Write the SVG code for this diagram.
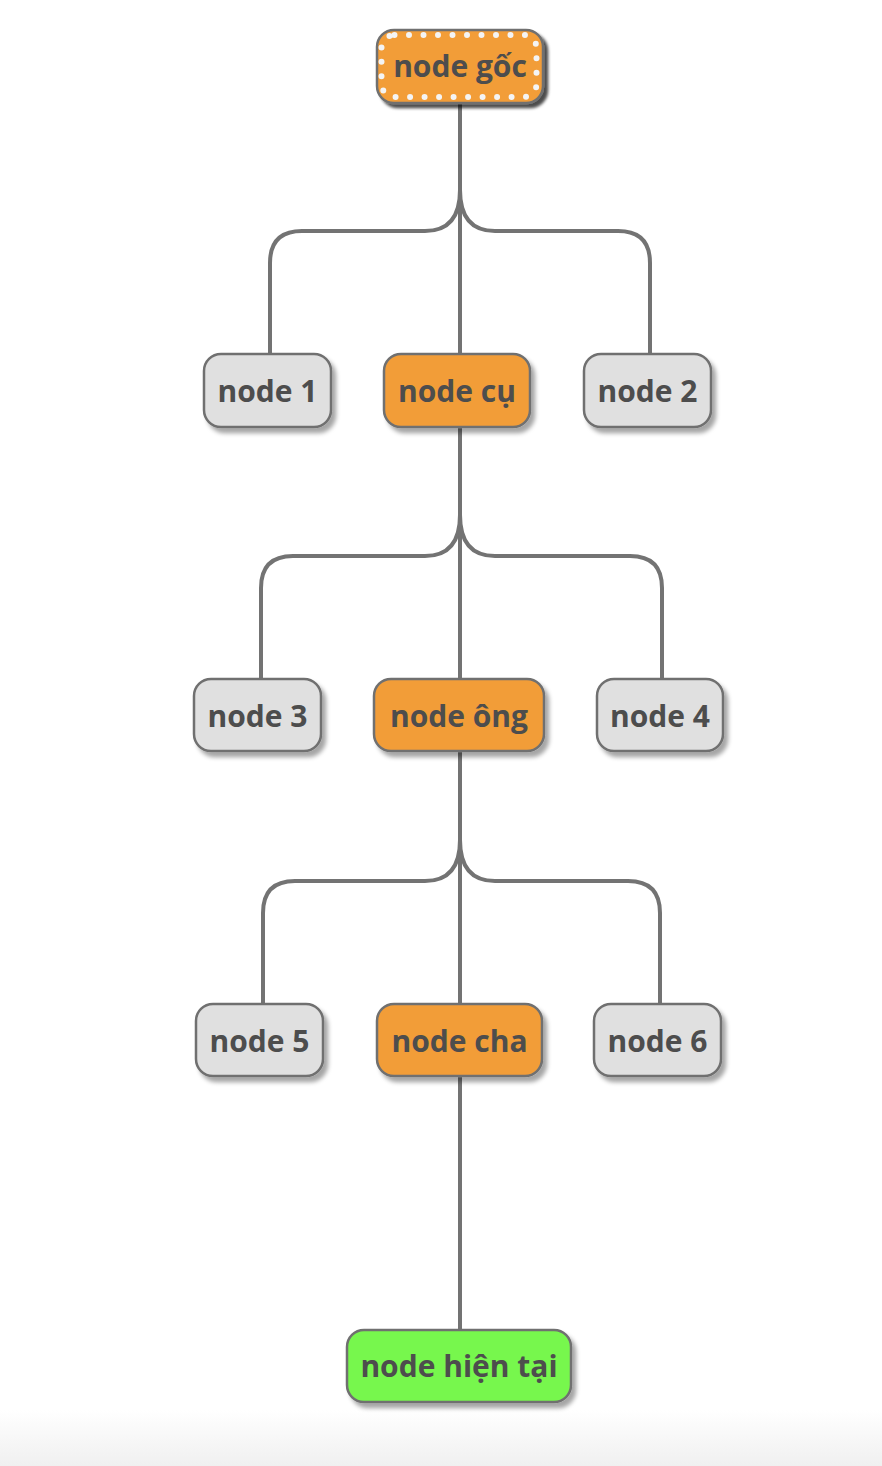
<svg xmlns="http://www.w3.org/2000/svg" width="882" height="1466" viewBox="0 0 882 1466">
<defs>
<filter id="sh" x="-20%" y="-20%" width="150%" height="160%">
<feGaussianBlur in="SourceAlpha" stdDeviation="2"/>
<feOffset dx="4" dy="5" result="b"/>
<feFlood flood-color="#000" flood-opacity="0.35"/>
<feComposite in2="b" operator="in"/>
<feMerge><feMergeNode/><feMergeNode in="SourceGraphic"/></feMerge>
</filter>
<filter id="sh2" x="-20%" y="-20%" width="150%" height="160%">
<feGaussianBlur in="SourceAlpha" stdDeviation="1.8"/>
<feOffset dx="4" dy="4" result="b"/>
<feFlood flood-color="#000" flood-opacity="0.7"/>
<feComposite in2="b" operator="in"/>
<feMerge><feMergeNode/><feMergeNode in="SourceGraphic"/></feMerge>
</filter>
<linearGradient id="bg" x1="0" y1="0" x2="0" y2="1">
<stop offset="0" stop-color="#ffffff"/>
<stop offset="1" stop-color="#f0f0f0"/>
</linearGradient>
</defs>
<style>
.n rect.b{stroke:#707070;stroke-width:2.5;filter:url(#sh)}
.g rect.b{fill:#e0e0e0}
.o rect.b{fill:#f29d38}
.c rect.b{fill:#77f74d}
.n text{font-family:"Open Sans","Noto Sans","DejaVu Sans",sans-serif;font-weight:700;font-size:30px;fill:#4d4d4d;text-anchor:middle}
.e{fill:none;stroke:#737373;stroke-width:4}
</style>
<rect x="0" y="0" width="882" height="1466" fill="#ffffff"/>
<rect x="0" y="1410" width="882" height="56" fill="url(#bg)"/>
<g id="edges">
<path class="e" d="M460 103 V354"/>
<path class="e" d="M460 190 Q460 231 425 231 H302 Q270 231 270 263 V354"/>
<path class="e" d="M460 190 Q460 231 495 231 H618 Q650 231 650 263 V354"/>
<path class="e" d="M460 427 V679"/>
<path class="e" d="M460 515 Q460 556 425 556 H293 Q261 556 261 588 V679"/>
<path class="e" d="M460 515 Q460 556 495 556 H630 Q662 556 662 588 V679"/>
<path class="e" d="M460 751 V1004"/>
<path class="e" d="M460 840 Q460 881 425 881 H295 Q263 881 263 913 V1004"/>
<path class="e" d="M460 840 Q460 881 495 881 H628 Q660 881 660 913 V1004"/>
<path class="e" d="M460 1076 V1330"/>
</g>
<g id="root" class="n o">
<rect class="b" x="377" y="30" width="166" height="73" rx="17" style="filter:url(#sh2)"/>
<rect x="381.5" y="35" width="155" height="62" rx="13" fill="none" stroke="#f4f4f4" stroke-width="6" stroke-linecap="round" stroke-dasharray="0 14.5"/>
<text x="460" y="77">node gốc</text>
</g>
<g id="node1" class="n g"><rect class="b" x="204" y="354" width="127" height="73" rx="17"/><text x="267.5" y="402">node 1</text></g>
<g id="nodecu" class="n o"><rect class="b" x="384" y="354" width="146" height="73" rx="17"/><text x="457" y="402">node cụ</text></g>
<g id="node2" class="n g"><rect class="b" x="584" y="354" width="127" height="73" rx="17"/><text x="647.5" y="402">node 2</text></g>
<g id="node3" class="n g"><rect class="b" x="194" y="679" width="127" height="72" rx="17"/><text x="257.5" y="727">node 3</text></g>
<g id="nodeong" class="n o"><rect class="b" x="374" y="679" width="170" height="72" rx="17"/><text x="459" y="727">node ông</text></g>
<g id="node4" class="n g"><rect class="b" x="597" y="679" width="126" height="72" rx="17"/><text x="660" y="727">node 4</text></g>
<g id="node5" class="n g"><rect class="b" x="196" y="1004" width="127" height="72" rx="17"/><text x="259.5" y="1052">node 5</text></g>
<g id="nodecha" class="n o"><rect class="b" x="377" y="1004" width="165" height="72" rx="17"/><text x="459.5" y="1052">node cha</text></g>
<g id="node6" class="n g"><rect class="b" x="594" y="1004" width="127" height="72" rx="17"/><text x="657.5" y="1052">node 6</text></g>
<g id="current" class="n c"><rect class="b" x="347" y="1330" width="224" height="72" rx="17"/><text x="459" y="1377">node hiện tại</text></g>
</svg>
